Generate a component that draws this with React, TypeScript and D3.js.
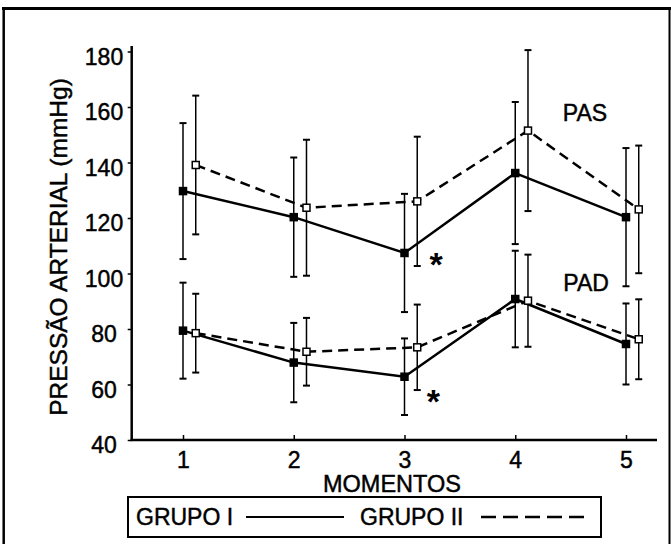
import React, { useEffect, useRef } from 'react';
import * as d3 from 'd3';

// momentos (eixo x)
const momentos = [1, 2, 3, 4, 5];
const yTicks = [40, 60, 80, 100, 120, 140, 160, 180];

// PAS - pressão arterial sistólica (média e desvio)
const pasG1 = [129.7, 120.3, 107.4, 136.2, 120.3];
const pasG1Sd = [24.5, 21.5, 21.3, 25.6, 24.9];
const pasG2 = [139.1, 123.7, 126.0, 151.5, 123.1];
const pasG2Sd = [25.0, 24.5, 23.3, 29.0, 23.0];

// PAD - pressão arterial diastólica
const padG1 = [79.4, 67.9, 62.8, 90.8, 74.6];
const padG1Sd = [17.3, 14.3, 13.8, 17.4, 14.6];
const padG2 = [78.5, 71.8, 73.4, 90.2, 76.3];
const padG2Sd = [14.2, 12.2, 15.4, 16.6, 14.4];

const FONT = '"Liberation Sans", Arial, Helvetica, sans-serif';

export default function App() {
    const ref = useRef<SVGSVGElement | null>(null);

    useEffect(() => {
        if (!ref.current) return;
        const svg = d3.select(ref.current);
        svg.selectAll('*').remove();

        const x = d3.scaleLinear().domain([1, 5]).range([183, 626]);
        const y = d3.scaleLinear().domain([40, 180]).range([440, 51.5]);
        const off = 0.115; // deslocamento do grupo II

        // texto um pouco mais "pesado", como no original escaneado
        const txt = (sel: any, size = 23) => sel
            .style('font-family', FONT)
            .style('font-size', `${size}px`)
            .attr('fill', '#000')
            .attr('stroke', '#000')
            .attr('stroke-width', 0.45);

        // moldura
        svg.append('line').attr('x1', 2).attr('x2', 671).attr('y1', 8.5).attr('y2', 8.5)
            .attr('stroke', '#000').attr('stroke-width', 3);
        svg.append('line').attr('x1', 3.7).attr('x2', 3.7).attr('y1', 7).attr('y2', 544)
            .attr('stroke', '#000').attr('stroke-width', 2.5);
        svg.append('line').attr('x1', 669.5).attr('x2', 669.5).attr('y1', 7).attr('y2', 544)
            .attr('stroke', '#000').attr('stroke-width', 2);

        // eixo y
        const gy = svg.append('g').attr('transform', 'translate(131.7,0)')
            .call(d3.axisLeft(y).tickValues(yTicks).tickSize(4).tickSizeOuter(0).tickFormat(d3.format('d')));
        gy.select('.domain').remove();
        gy.selectAll('line').attr('stroke', '#000').attr('stroke-width', 1.5);
        txt(gy.selectAll('text')
            .attr('x', 104 - 131.7)
            .attr('dy', '0.55em')
            .attr('text-anchor', 'middle'));
        svg.append('line').attr('x1', 131.7).attr('x2', 131.7).attr('y1', 46).attr('y2', 441)
            .attr('stroke', '#000').attr('stroke-width', 2.5);

        // eixo x
        const gx = svg.append('g').attr('transform', 'translate(0,440)')
            .call(d3.axisBottom(x).tickValues(momentos).tickSize(-5).tickSizeOuter(0).tickPadding(12).tickFormat(d3.format('d')));
        gx.select('.domain').remove();
        gx.selectAll('line').attr('stroke', '#000').attr('stroke-width', 1.5);
        txt(gx.selectAll('text'));
        svg.append('line').attr('x1', 130.5).attr('x2', 657).attr('y1', 440).attr('y2', 440)
            .attr('stroke', '#000').attr('stroke-width', 2.5);

        txt(svg.append('text').attr('x', 392).attr('y', 492).attr('text-anchor', 'middle'), 23.5)
            .text('MOMENTOS');

        txt(svg.append('text')
            .attr('transform', 'translate(67,247) rotate(-90)')
            .attr('text-anchor', 'middle'), 24.5)
            .text('PRESSÃO ARTERIAL (mmHg)');

        const series = [
            { mean: pasG1, sd: pasG1Sd, dx: 0, open: false },
            { mean: pasG2, sd: pasG2Sd, dx: off, open: true },
            { mean: padG1, sd: padG1Sd, dx: 0, open: false },
            { mean: padG2, sd: padG2Sd, dx: off, open: true },
        ];

        // barras de erro
        series.forEach(s => {
            const g = svg.append('g').attr('stroke', '#000').attr('stroke-width', 1.5);
            s.mean.forEach((m, i) => {
                const cx = x(momentos[i] + s.dx);
                const top = y(m + s.sd[i]);
                const bot = y(m - s.sd[i]);
                g.append('line').attr('x1', cx).attr('x2', cx).attr('y1', top).attr('y2', bot);
                g.append('line').attr('x1', cx - 3.5).attr('x2', cx + 3.5).attr('y1', top).attr('y2', top).attr('stroke-width', 2);
                g.append('line').attr('x1', cx - 3.5).attr('x2', cx + 3.5).attr('y1', bot).attr('y2', bot).attr('stroke-width', 2);
            });
        });

        // linhas
        series.forEach(s => {
            const line = d3.line<number>()
                .x((_, i) => x(momentos[i] + s.dx))
                .y(d => y(d));
            svg.append('path').datum(s.mean)
                .attr('fill', 'none')
                .attr('stroke', '#000')
                .attr('stroke-width', 2.5)
                .attr('stroke-dasharray', s.open ? '10,6' : null)
                .attr('d', line);
        });

        // marcadores
        series.forEach(s => {
            s.mean.forEach((m, i) => {
                svg.append('rect')
                    .attr('x', x(momentos[i] + s.dx) - 3.5)
                    .attr('y', y(m) - 3.5)
                    .attr('width', 7).attr('height', 7)
                    .attr('fill', s.open ? '#fff' : '#000')
                    .attr('stroke', '#000').attr('stroke-width', 1.5);
            });
        });

        // rótulos
        txt(svg.append('text').attr('x', x(4.63)).attr('y', y(157.8) + 8).attr('text-anchor', 'middle'))
            .text('PAS');
        txt(svg.append('text').attr('x', x(4.64)).attr('y', y(96.6) + 8).attr('text-anchor', 'middle'))
            .text('PAD');
        [[3.285, 105.6], [3.26, 56.2]].forEach(([ax, ay]) => {
            svg.append('text').attr('x', x(ax)).attr('y', y(ay) + 18).attr('text-anchor', 'middle')
                .style('font-family', FONT).style('font-size', '34px').style('font-weight', 'bold').text('*');
        });

        // legenda
        svg.append('rect').attr('x', 128).attr('y', 497).attr('width', 473).attr('height', 40)
            .attr('fill', 'none').attr('stroke', '#000').attr('stroke-width', 2);
        txt(svg.append('text').attr('x', 136).attr('y', 525)).text('GRUPO I');
        svg.append('line').attr('x1', 246).attr('x2', 344).attr('y1', 517).attr('y2', 517)
            .attr('stroke', '#000').attr('stroke-width', 2);
        txt(svg.append('text').attr('x', 360).attr('y', 525)).text('GRUPO II');
        svg.append('line').attr('x1', 481).attr('x2', 584).attr('y1', 517).attr('y2', 517)
            .attr('stroke', '#000').attr('stroke-width', 2.5).attr('stroke-dasharray', '15,7');
    }, []);

    return (
        <svg ref={ref} width={671} height={544}
            style={{ position: 'absolute', left: 0, top: 0, background: '#fff' }} />
    );
}
